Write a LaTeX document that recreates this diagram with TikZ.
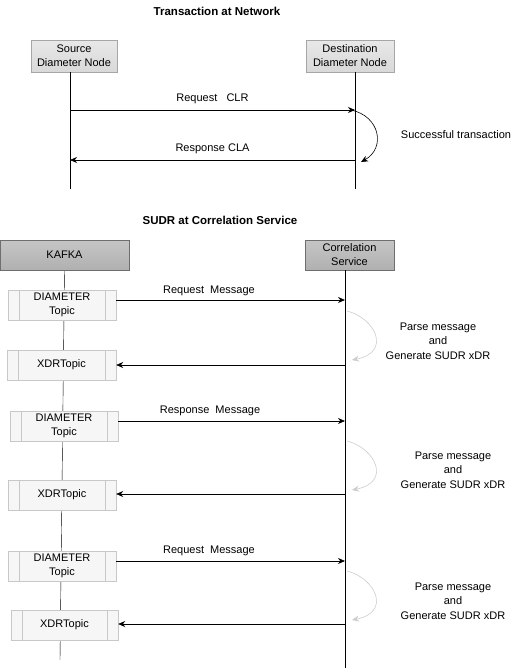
\documentclass[tikz,border=0pt]{standalone}
\usepackage{fontspec}
\setmainfont{Liberation Sans}
\usetikzlibrary{arrows.meta,backgrounds}

\definecolor{boxline}{HTML}{A6A6A6}
\definecolor{darkline}{HTML}{6E6E6E}
\definecolor{topicline}{HTML}{C8C8C8}

\tikzset{
    actor/.style={draw=boxline, top color=gray!18, bottom color=gray!30, inner sep=0pt, align=center},
    darkactor/.style={draw=darkline, top color=gray!45, bottom color=gray!62, inner sep=0pt, align=center},
    topic/.style={draw=topicline, fill=gray!7, inner sep=0pt, minimum height=30pt, align=center},
    msg/.style={-{Stealth[length=7pt,width=6pt]}, line width=0.7pt},
    turn/.style={-{Stealth[length=7pt,width=6pt]}, line width=0.6pt}
}

\begin{document}
\begin{tikzpicture}[x=1pt, y=-1pt, font=\fontsize{11}{14}\selectfont]
    \useasboundingbox (0,0) rectangle (531,672);

    %Titulos
    \node[font=\fontsize{11.5}{14}\selectfont\bfseries] (tnet) at (217,11) {Transaction at Network};
    \node[font=\fontsize{11.5}{14}\selectfont\bfseries] (tsudr) at (220,220) {SUDR at Correlation Service};

    %Rede
    \node[actor, minimum width=86pt, minimum height=32pt] (src) at (74,56) {Source\\Diameter Node};
    \node[actor, minimum width=88pt, minimum height=32pt] (dst) at (350,56) {Destination\\Diameter Node};
    \coordinate (srcend) at (70,189);
    \coordinate (dstend) at (355,189);
    \draw (src.south -| srcend) -- (srcend);
    \draw (dst.south -| dstend) -- (dstend);

    \coordinate (clr) at (355,110);
    \coordinate (cla) at (355,160);
    \draw[msg] (clr -| srcend) -- (clr) node[midway, above=3pt] {Request \ \ CLR};
    \draw[msg] (cla) -- (cla -| srcend) node[midway, above=3pt] {Response CLA};
    \draw[turn] ([xshift=-4pt]clr) .. controls (380,116) and (386,148) .. ([xshift=6pt, yshift=-2pt]cla);
    \node (ok) at (456,135) {Successful transaction};

    %Correlacao
    \node[darkactor, minimum width=129pt, minimum height=30pt] (kafka) at (64.5,255) {KAFKA};
    \node[darkactor, minimum width=89pt, minimum height=30pt] (cs) at (349.5,255) {Correlation\\Service};
    \coordinate (csend) at (345,668);
    \draw (cs.south -| csend) -- (csend);

    %Topicos
    \node[topic, minimum width=108pt] (d1) at (62,305) {DIAMETER\\Topic};
    \node[topic, minimum width=109pt] (x1) at (61.5,365) {XDRTopic};
    \node[topic, minimum width=108pt] (d2) at (64,426) {DIAMETER\\Topic};
    \node[topic, minimum width=108pt] (x2) at (62,495) {XDRTopic};
    \node[topic, minimum width=108pt] (d3) at (62,566) {DIAMETER\\Topic};
    \node[topic, minimum width=107pt] (x3) at (64.5,625) {XDRTopic};
    \coordinate (kend) at (60,660);

    \foreach \t in {d1,x1,d2,x2,d3,x3} {
        \draw[topicline] ([xshift=11pt]\t.north west) -- ([xshift=11pt]\t.south west);
        \draw[topicline] ([xshift=-11pt]\t.north east) -- ([xshift=-11pt]\t.south east);
    }

    %linha do KAFKA
    \begin{scope}[on background layer]
        \draw (kafka.south) -- (kend);
    \end{scope}

    %Mensagens
    \draw[msg] ([yshift=5pt]d1.east) -- ([yshift=5pt]d1.east -| csend);
    \node (m1) at (209,291) {Request \ Message};
    \draw[msg] (x1.east -| csend) -- (x1.east);
    \draw[msg] ([yshift=5pt]d2.east) -- ([yshift=5pt]d2.east -| csend);
    \node (m2) at (210,411) {Response \ Message};
    \draw[msg] ([yshift=1pt]x2.east -| csend) -- ([yshift=1pt]x2.east);
    \draw[msg] ([yshift=5pt]d3.east) -- ([yshift=5pt]d3.east -| csend);
    \node (m3) at (209,551) {Request \ Message};
    \draw[msg] ([yshift=1pt]x3.east -| csend) -- ([yshift=1pt]x3.east);

    %Processamento
    \draw[turn, gray!40] (347,311) .. controls (375,318) and (392,352) .. (352,360);
    \node[align=center, font=\fontsize{11}{14.5}\selectfont] (p1) at (438,341) {Parse message\\and\\Generate SUDR xDR};
    \draw[turn, gray!40] (347,441) .. controls (375,448) and (392,482) .. (352,490);
    \node[align=center, font=\fontsize{11}{14.5}\selectfont] (p2) at (453,470) {Parse message\\and\\Generate SUDR xDR};
    \draw[turn, gray!40] (347,571) .. controls (375,578) and (392,612) .. (352,620);
    \node[align=center, font=\fontsize{11}{14.5}\selectfont] (p3) at (453,601) {Parse message\\and\\Generate SUDR xDR};

\end{tikzpicture}
\end{document}
